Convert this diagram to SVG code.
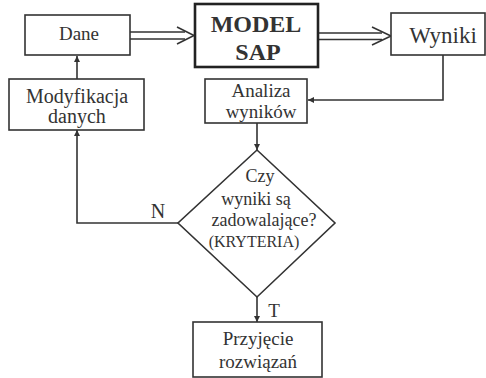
<svg xmlns="http://www.w3.org/2000/svg" width="486" height="378" viewBox="0 0 486 378">
<defs>
<style>
.box{fill:#fff;stroke:#333;stroke-width:1.6}
.thick{fill:#fff;stroke:#222;stroke-width:2.6}
.ln{fill:none;stroke:#333;stroke-width:1.6}
.t{fill:#333;text-anchor:middle}
</style>
<marker id="ah" viewBox="0 0 10 10" refX="10" refY="5" markerWidth="6" markerHeight="9" markerUnits="userSpaceOnUse" orient="auto">
<path d="M0,0 L10,5 L0,10 z" fill="#333"/>
</marker>
<marker id="ahs" viewBox="0 0 10 10" refX="10" refY="5" markerWidth="14" markerHeight="6" markerUnits="userSpaceOnUse" orient="auto">
<path d="M0,0 L10,5 L0,10 z" fill="#333"/>
</marker>
</defs>
<rect width="486" height="378" fill="#fff"/>
<g font-family="'Times New Roman', 'Liberation Serif', Times, 'DejaVu Serif', serif">
<g id="connectors">
<path class="ln" d="M130,32 H185 M130,39 H185"/>
<path class="ln" d="M177,27 L194,35.5 L177,44"/>
<path class="ln" d="M318,33 H382 M318,39.5 H382"/>
<path class="ln" d="M372,27 L391,36 L372,45"/>
<path class="ln" d="M77,79 V56" marker-end="url(#ah)"/>
<path class="ln" d="M443,55 V100 H308" marker-end="url(#ahs)"/>
<path class="ln" d="M257,123 V150" marker-end="url(#ah)"/>
<path class="ln" d="M178,223 H77 V130" marker-end="url(#ah)"/>
<path class="ln" d="M257,297 V322" marker-end="url(#ah)"/>
<text class="t" x="158" y="218" font-size="20">N</text>
<text class="t" x="274" y="317" font-size="19">T</text>
</g>
<g id="dane">
<rect class="box" x="25" y="15" width="105" height="40"/>
<text class="t" x="79" y="40" font-size="19">Dane</text>
</g>
<g id="model">
<rect class="thick" x="195" y="4" width="123" height="63"/>
<text class="t" x="256" y="32" font-size="24" font-weight="bold">MODEL</text>
<text class="t" x="258" y="60" font-size="24" font-weight="bold">SAP</text>
</g>
<g id="wyniki">
<rect class="box" x="391" y="13" width="94" height="42"/>
<text class="t" x="443" y="43" font-size="23">Wyniki</text>
</g>
<g id="modyfikacja">
<rect class="box" x="9" y="79" width="135" height="51"/>
<text class="t" x="77" y="103" font-size="20">Modyfikacja</text>
<text class="t" x="77" y="123" font-size="20">danych</text>
</g>
<g id="analiza">
<rect class="box" x="205" y="79" width="102" height="44"/>
<text class="t" x="261" y="97" font-size="19">Analiza</text>
<text class="t" x="261" y="118" font-size="19">wyników</text>
</g>
<g id="decyzja">
<polygon class="box" points="257,150 335,223 257,297 178,223"/>
<text class="t" x="260" y="182" font-size="18">Czy</text>
<text class="t" x="256" y="205" font-size="18">wyniki są</text>
<text class="t" x="264" y="226" font-size="18">zadowalające?</text>
<text class="t" x="254" y="247" font-size="16">(KRYTERIA)</text>
</g>
<g id="przyjecie">
<rect class="box" x="193" y="322" width="129" height="55"/>
<text class="t" x="258" y="345" font-size="19">Przyjęcie</text>
<text class="t" x="258" y="368" font-size="19">rozwiązań</text>
</g>
</g>
</svg>
